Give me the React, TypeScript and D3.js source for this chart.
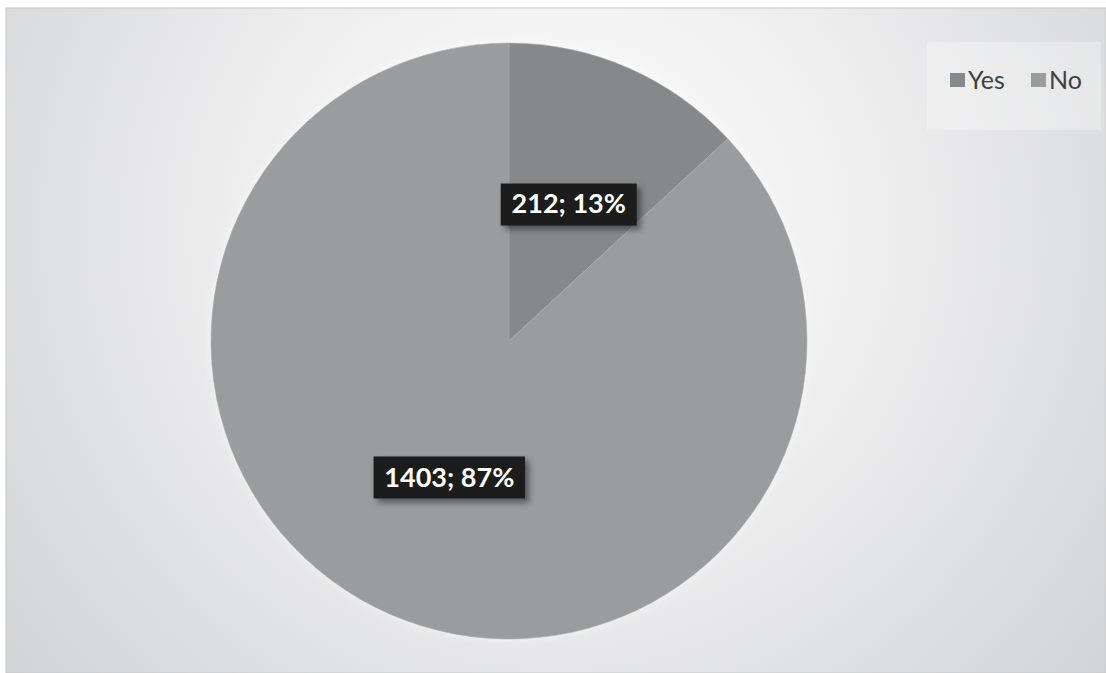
import React from "react";
import * as d3 from "d3";

const categories = ["Yes", "No"];
const values = [212, 1403];
const colors = ["#87888b", "#9b9c9f"];

const W = 1106;
const H = 673;

export default function App() {
  const cx = 509;
  const cy = 341;
  const R = 298;
  const total = d3.sum(values);
  const pie = d3.pie<number>().sort(null).value((d) => d);
  const arcs = pie(values);
  const arc = d3.arc<d3.PieArcDatum<number>>().innerRadius(0).outerRadius(R);
  const labelArc = d3.arc<d3.PieArcDatum<number>>().innerRadius(R * 0.5).outerRadius(R * 0.5);

  return (
    <svg width={W} height={H} style={{ position: "absolute", left: 0, top: 0 }}>
      <defs>
        <radialGradient id="bg" cx="560" cy="230" r="700" gradientUnits="userSpaceOnUse">
          <stop offset="0" stopColor="#ffffff" />
          <stop offset="0.45" stopColor="#eeeeef" />
          <stop offset="1" stopColor="#d3d4d6" />
        </radialGradient>
        <filter id="pieShadow" x="-20%" y="-20%" width="140%" height="140%">
          <feGaussianBlur in="SourceAlpha" stdDeviation="4" />
          <feOffset dx="0" dy="0" result="b" />
          <feFlood floodColor="#ffffff" floodOpacity="0.6" />
          <feComposite in2="b" operator="in" />
          <feMerge>
            <feMergeNode />
            <feMergeNode in="SourceGraphic" />
          </feMerge>
        </filter>
        <filter id="lblShadow" x="-20%" y="-40%" width="150%" height="190%">
          <feDropShadow dx="4" dy="4" stdDeviation="3" floodColor="#000" floodOpacity="0.45" />
        </filter>
      </defs>
      <rect x={0} y={0} width={W} height={H} fill="#ffffff" />
      <rect x={6} y={8} width={W - 6} height={H - 8} fill="url(#bg)" stroke="#c8c8c8" strokeWidth={1} />
      <g transform={`translate(${cx},${cy})`} filter="url(#pieShadow)">
        {arcs.map((a, i) => (
          <path key={categories[i]} d={arc(a) || ""} fill={colors[i]} stroke="#a9aaad" strokeWidth={0.6} />
        ))}
      </g>
      <g transform={`translate(${cx},${cy})`}>
        {arcs.map((a, i) => {
          const [lx, ly] = labelArc.centroid(a);
          const pct = Math.round((values[i] / total) * 100);
          const text = `${values[i]}; ${pct}%`;
          const w = text.length * 15.5 + 12;
          const h = 42;
          return (
            <g key={categories[i]} transform={`translate(${lx},${ly})`}>
              <rect x={-w / 2} y={-h / 2} width={w} height={h} fill="#1e1e1e" filter="url(#lblShadow)" />
              <text
                x={0}
                y={9}
                textAnchor="middle"
                fill="#ffffff"
                fontFamily="Lato, 'Open Sans', sans-serif"
                fontWeight={700}
                fontSize={27}
              >
                {text}
              </text>
            </g>
          );
        })}
      </g>
      <g>
        <rect x={927} y={42} width={174} height={88} fill="#ffffff" opacity={0.3} />
        {categories.map((c, i) => {
          const x0 = i === 0 ? 950 : 1031;
          return (
            <g key={c}>
              <rect x={x0} y={73} width={15} height={14} fill={colors[i]} />
              <text x={x0 + 18} y={89} fontFamily="Lato, 'Open Sans', sans-serif" fontSize={25} fill="#404040">
                {c}
              </text>
            </g>
          );
        })}
      </g>
    </svg>
  );
}
